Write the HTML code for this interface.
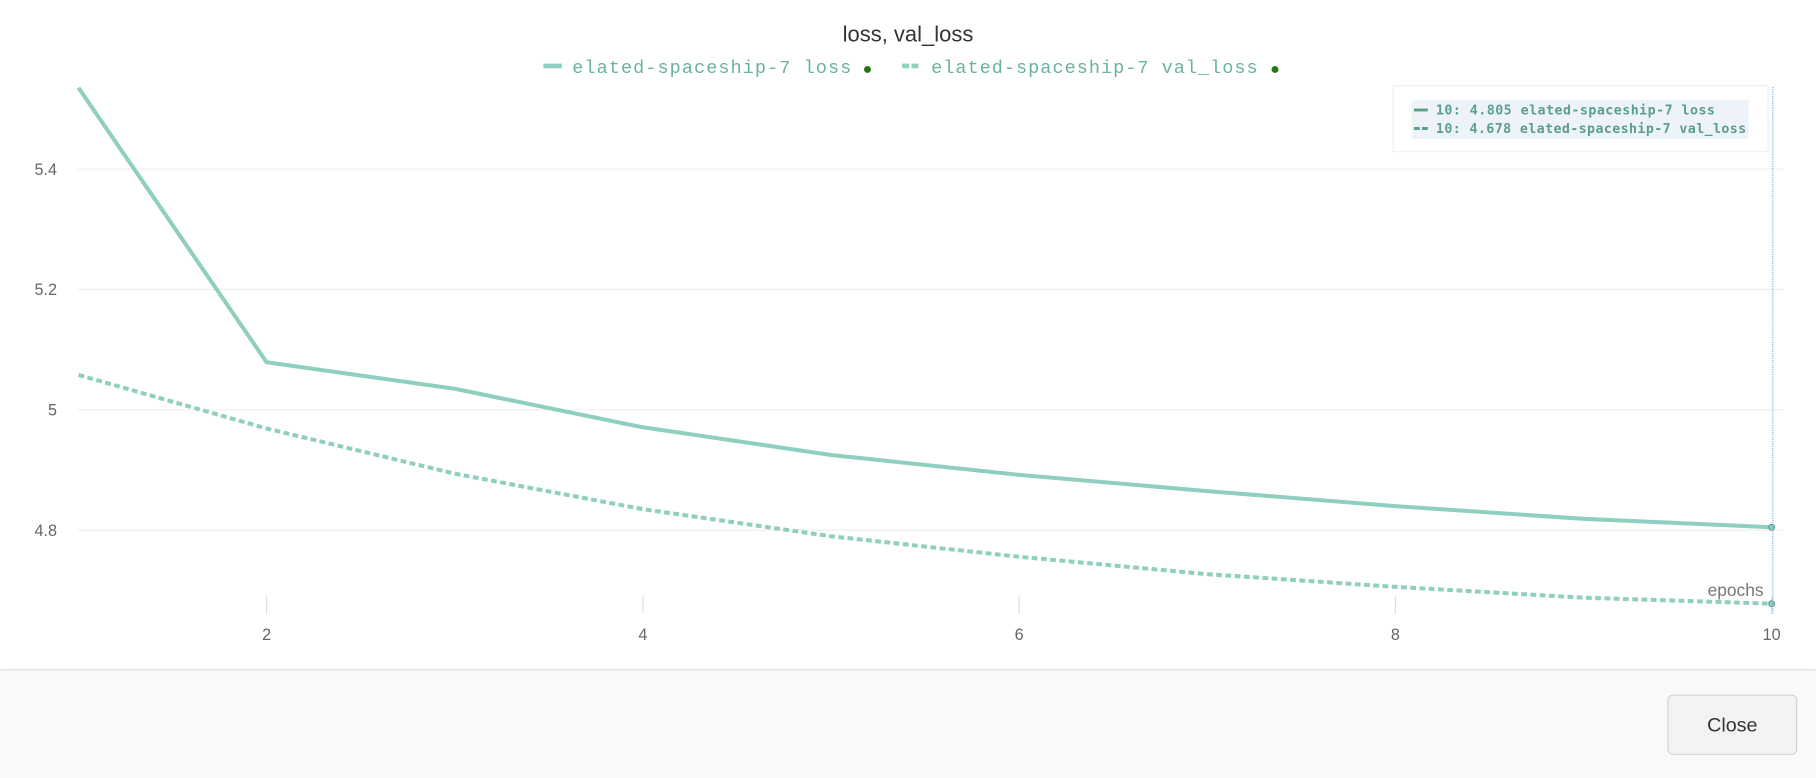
<!DOCTYPE html>
<html><head><meta charset="utf-8"><style>
html,body{margin:0;padding:0;background:#fff;overflow:hidden}
svg{display:block}
</style></head><body>
<svg id="chart" width="1816" height="778" viewBox="0 0 1568 672" xmlns="http://www.w3.org/2000/svg">
<rect width="1568" height="672" fill="#fff"/>
<text x="784" y="36" text-anchor="middle" font-family="Liberation Sans, sans-serif" font-size="19" fill="#333">loss, val_loss</text>
<g font-family="Liberation Mono, monospace" font-size="16" fill="#6ab3a0">
 <g>
  <line x1="469" y1="57" x2="485" y2="57" stroke="#8fcfbf" stroke-width="4"/>
  <text x="494" y="63" textLength="241" lengthAdjust="spacing">elated-spaceship-7 loss</text>
  <circle cx="749" cy="60" r="3" fill="#1f7a0a"/>
 </g>
 <g>
  <line x1="779" y1="57" x2="795" y2="57" stroke="#8fcfbf" stroke-width="4" stroke-dasharray="6,2"/>
  <text x="804" y="63" textLength="282" lengthAdjust="spacing">elated-spaceship-7 val_loss</text>
  <circle cx="1101" cy="60" r="3" fill="#1f7a0a"/>
 </g>
</g>
<g id="grid"></g>
<g id="axes" font-family="Liberation Sans, sans-serif" font-size="14" fill="#666"></g>
<g id="series"></g>
<line x1="1531" y1="75" x2="1531" y2="530" stroke="#7aa8e0" stroke-width="1" stroke-dasharray="1,1"/>
<text x="1523" y="515" text-anchor="end" font-family="Liberation Sans, sans-serif" font-size="15" fill="#777">epochs</text>
<g>
 <rect x="1203" y="74" width="324" height="57" fill="#fff" stroke="#eceef0"/>
 <rect x="1219" y="86" width="291" height="34" fill="#eef3fa"/>
 <g font-family="DejaVu Sans Mono, monospace" font-size="11.5" font-weight="bold" fill="#5a9e8c">
  <line x1="1221" y1="95" x2="1233" y2="95" stroke="#5a9e8c" stroke-width="2.5"/>
  <text x="1240" y="99" textLength="241" lengthAdjust="spacing">10: 4.805 elated-spaceship-7 loss</text>
  <line x1="1221" y1="111" x2="1233" y2="111" stroke="#5a9e8c" stroke-width="2.5" stroke-dasharray="5,2"/>
  <text x="1240" y="115" textLength="268" lengthAdjust="spacing">10: 4.678 elated-spaceship-7 val_loss</text>
 </g>
</g>
<g>
 <rect x="0" y="578" width="1568" height="94" fill="#f8f9fa"/>
 <line x1="0" y1="578.5" x2="1568" y2="578.5" stroke="#dde0e3"/>
 <g>
  <rect x="1440.5" y="600.5" width="111" height="51" rx="4" fill="#f3f3f3" stroke="#cfd2d5"/>
  <text x="1496" y="632" text-anchor="middle" font-family="Liberation Sans, sans-serif" font-size="17" fill="#333">Close</text>
 </g>
</g>
</svg>
<script>
const epochs=[1,2,3,4,5,6,7,8,9,10];
const lossValues=[5.535,5.079,5.035,4.971,4.925,4.892,4.865,4.840,4.819,4.805];
const valLossValues=[5.058,4.969,4.894,4.835,4.790,4.756,4.727,4.706,4.688,4.678];
const yTicks=[4.8,5,5.2,5.4];
const yTickLabels=["4.8","5","5.2","5.4"];
const xTicks=[2,4,6,8,10];
const xTickLabels=["2","4","6","8","10"];
const NS="http://www.w3.org/2000/svg";
function xs(v){return 67.5+(v-1)*162.5;}
function ys(v){return 354-(v-5)*520;}
function mk(t,a,p){const e=document.createElementNS(NS,t);for(const k in a)e.setAttribute(k,a[k]);p.appendChild(e);return e;}
const grid=document.getElementById('grid'),axes=document.getElementById('axes'),series=document.getElementById('series');
yTicks.forEach((v,i)=>{
 const g=mk('line',{x1:67,x2:1540,y1:ys(v),y2:ys(v),stroke:'#efefef'},grid);
 
 
 const t=mk('text',{x:49,y:ys(v)+5,'text-anchor':'end'},axes);
 t.textContent=yTickLabels[i];
 
 
});
xTicks.forEach((v,i)=>{
 const l=mk('line',{x1:xs(v),x2:xs(v),y1:515,y2:530,stroke:'#ddd'},axes);
 
 
 const t=mk('text',{x:xs(v),y:553,'text-anchor':'middle'},axes);
 t.textContent=xTickLabels[i];
 
 
});
function draw(vals,dash,name){
 const d=vals.map((v,i)=>(i?'L':'M')+xs(epochs[i])+','+ys(v)).join(' ');
 const p=mk('path',{d:d,fill:'none',stroke:'#8fcfbf','stroke-width':3.5,'stroke-linejoin':'round'},series);
 if(dash)p.setAttribute('stroke-dasharray',dash);
 
 
 const n=vals.length-1;
 const c=mk('circle',{cx:xs(epochs[n]),cy:ys(vals[n]),r:2.5,fill:'#8fcfbf',stroke:'#5a9e8c'},series);
 
 
}
draw(lossValues,null,'loss-line');
draw(valLossValues,'5,3','val-loss-line');
</script>
</body></html>
